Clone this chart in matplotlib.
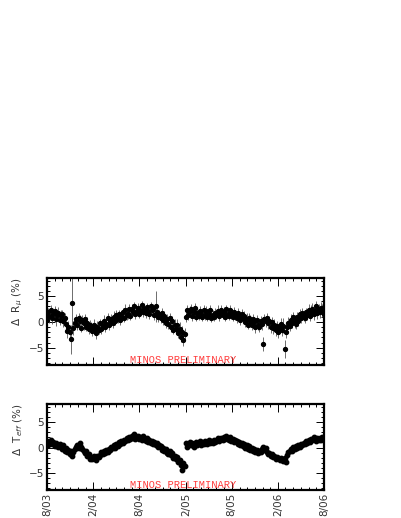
import matplotlib
matplotlib.use('Agg')
import matplotlib.pyplot as plt
import matplotlib.dates as mdates
import numpy as np
import pandas as pd

# one point every 5 days from 1 Aug 2003
start_date = '2003-08-01'
step = '5D'

rmu = [
    0.4, 1.9, 1.1, 2.3, 0.8, 1.5,
    2.1, 0.6, 1.3, 1.8, 0.4, 1.2,
    1.5, 0.1, 0.7, -0.4, -1.8, -0.9,
    -2.0, -3.4, 3.7, -1.2, -0.3, 0.5,
    -0.6, 0.7, 0.2, -1.1, 0.4, -0.3,
    0.5, -0.9, -0.2, -1.4, -0.6, -1.1,
    -1.8, -0.6, -1.3, -2.1, -0.9, -1.5,
    -0.2, -1.3, -0.7, 0.2, -1.0, -0.4,
    0.8, -0.5, 0.1, 0.6, -0.3, 1.0,
    0.2, 1.4, 0.7, 1.6, 0.4, 1.1,
    1.9, 0.8, 2.4, 1.3, 1.6, 2.6,
    1.2, 2.5, 1.9, 3.0, 1.5, 2.2,
    2.8, 1.6, 2.3, 3.3, 1.9, 2.6,
    1.7, 2.9, 2.2, 1.5, 3.0, 2.4,
    2.5, 1.4, 3.0, 1.9, 0.9, 1.6,
    0.7, 1.8, 0.3, 1.1, -0.2, 0.6,
    -0.4, 0.8, -0.9, 0.1, -1.5, -0.6,
    -1.4, -0.5, -2.2, -1.3, -2.9, -2.0,
    -3.6, -2.4, 0.9, 2.3, 1.4, 2.1,
    2.5, 1.2, 1.9, 2.7, 1.0, 1.7,
    1.1, 2.2, 1.6, 0.9, 2.4, 1.4,
    2.1, 1.0, 1.6, 2.3, 0.8, 1.3,
    0.9, 1.8, 1.3, 2.2, 1.1, 2.0,
    2.4, 1.3, 1.9, 1.0, 2.5, 1.6,
    1.2, 2.3, 1.6, 0.9, 2.0, 1.4,
    0.7, 1.7, 1.0, 0.3, 1.5, 0.8,
    1.1, 0.0, 0.6, -0.5, 0.8, 0.2,
    -0.6, 0.5, -0.1, -1.0, 0.3, -0.5,
    -0.9, 0.2, -0.4, -4.3, 0.6, 0.1,
    0.7, -0.3, 0.2, -0.9, 0.0, -1.2,
    -0.5, -1.5, -0.8, -1.9, -1.1, -0.4,
    -1.6, -0.7, -5.3, -1.9, -1.0, -0.2,
    -0.8, 0.4, -0.2, 0.9, 0.1, -0.4,
    1.0, 0.2, 1.5, 0.7, 1.8, 1.1,
    0.8, 1.9, 1.4, 2.4, 1.1, 2.0,
    2.6, 1.5, 2.2, 3.0, 1.7, 2.5,
    1.9, 2.8, 2.2, 1.6,
]

rmu_err = [
    1.1, 0.9, 1.3, 1.0, 1.2, 0.9,
    1.0, 1.4, 0.9, 1.1, 1.0, 1.2,
    0.9, 1.1, 1.0, 1.2, 1.3, 1.0,
    1.4, 2.8, 5.0, 1.3, 1.0, 1.1,
    0.9, 1.0, 1.1, 0.9, 1.0, 1.2,
    1.0, 0.9, 1.1, 1.0, 0.9, 1.1,
    1.0, 1.1, 0.9, 1.3, 1.0, 0.9,
    0.8, 1.0, 0.9, 1.1, 1.0, 0.9,
    0.9, 1.0, 0.8, 1.0, 0.9, 1.1,
    0.8, 0.9, 1.0, 0.8, 0.9, 1.0,
    0.9, 0.8, 1.0, 0.9, 1.1, 0.8,
    0.9, 1.0, 0.8, 0.9, 1.0, 0.9,
    0.8, 0.9, 1.0, 0.8, 0.9, 1.1,
    0.9, 0.8, 1.0, 0.9, 0.8, 1.0,
    0.9, 1.0, 3.0, 0.9, 1.0, 0.8,
    0.9, 1.0, 0.9, 1.1, 0.9, 1.0,
    1.0, 0.9, 1.1, 1.0, 0.9, 1.2,
    1.0, 1.1, 0.9, 1.2, 1.0, 1.3,
    1.1, 1.2, 1.0, 0.9, 1.1, 1.0,
    0.9, 1.0, 0.8, 1.0, 0.9, 1.1,
    0.8, 0.9, 1.0, 0.8, 0.9, 1.0,
    0.9, 0.8, 1.0, 0.9, 0.8, 1.0,
    0.8, 0.9, 0.8, 1.0, 0.9, 0.8,
    0.9, 0.8, 1.0, 0.9, 0.8, 0.9,
    0.8, 0.9, 1.0, 0.8, 0.9, 1.0,
    0.9, 1.0, 0.9, 0.8, 1.0, 0.9,
    1.0, 0.9, 1.1, 0.9, 1.0, 1.1,
    1.0, 1.1, 0.9, 1.2, 1.0, 1.1,
    1.1, 1.0, 1.2, 1.3, 1.0, 1.1,
    1.0, 1.1, 0.9, 1.2, 1.0, 1.1,
    1.1, 1.2, 1.0, 1.3, 1.1, 1.2,
    1.1, 1.4, 1.8, 1.2, 1.0, 1.1,
    1.0, 1.1, 0.9, 1.0, 1.2, 0.9,
    1.0, 0.9, 1.1, 1.0, 0.9, 1.0,
    1.0, 0.9, 1.1, 1.0, 0.9, 1.2,
    1.0, 1.1, 0.9, 1.0, 1.1, 1.0,
    1.1, 1.0, 1.2, 1.0,
]

teff = [
    1.2, 0.5, 0.9, 1.4, 0.6, 1.0,
    0.3, 0.9, 0.5, 0.1, 0.7, 0.2,
    -0.2, 0.4, -0.6, -0.1, -0.9, -0.4,
    -1.3, -0.7, -1.6, -0.9, -0.3, 0.1,
    0.5, -0.1, 0.8, 0.2, -0.3, -0.7,
    -1.1, -0.6, -1.7, -1.3, -2.2, -1.8,
    -2.3, -1.7, -2.1, -2.5, -1.6, -1.9,
    -1.5, -0.9, -1.2, -0.6, -1.1, -0.4,
    -0.8, -0.2, -0.5, 0.2, -0.1, 0.4,
    0.0, 0.6, 0.3, 1.0, 0.7, 1.3,
    0.9, 1.5, 1.2, 1.8, 1.4, 2.0,
    1.6, 2.2, 1.9, 2.6, 1.7, 2.1,
    2.2, 1.6, 2.0, 1.5, 2.3, 1.7,
    1.3, 1.8, 1.1, 1.5, 0.8, 1.2,
    0.7, 1.1, 0.4, 0.8, 0.1, 0.5,
    0.3, -0.4, 0.0, -0.7, -0.2, -1.0,
    -1.2, -0.7, -1.5, -1.1, -2.0, -1.6,
    -2.3, -1.8, -2.9, -2.5, -3.4, -4.3,
    -3.1, -3.7, 0.8, 0.2, 0.6, 1.0,
    0.4, 0.9, 0.2, 0.7, 1.1, 0.5,
    0.8, 1.2, 0.5, 1.0, 0.7, 1.3,
    1.0, 0.6, 1.4, 0.9, 1.2, 0.8,
    1.5, 1.0, 1.3, 1.8, 1.2, 1.6,
    1.9, 1.4, 2.1, 1.7, 2.3, 1.6,
    1.5, 2.0, 1.3, 1.7, 1.0, 1.4,
    1.2, 0.7, 1.0, 0.4, 0.8, 0.3,
    0.6, 0.0, 0.4, -0.2, 0.3, -0.5,
    -0.1, -0.7, -0.3, -0.9, -0.4, -1.1,
    -0.6, -0.9, -0.2, 0.1, -0.4, -0.1,
    -0.8, -1.3, -1.0, -1.6, -1.2, -1.9,
    -1.6, -2.2, -1.8, -2.0, -2.5, -2.1,
    -2.3, -2.7, -2.0, -2.9, -1.5, -0.9,
    -0.7, -0.2, -0.6, 0.1, -0.3, 0.3,
    0.0, 0.5, 0.2, 0.7, 0.4, 0.9,
    0.7, 1.2, 0.9, 1.5, 1.1, 1.7,
    1.5, 2.0, 1.6, 1.3, 1.9, 1.5,
    1.8, 1.4, 2.0, 1.7,
]

xtick_dates = ['2003-08-01', '2004-02-01', '2004-08-01',
               '2005-02-01', '2005-08-01', '2006-02-01', '2006-08-01']
xtick_labels = ['8/03', '2/04', '8/04', '2/05', '8/05', '2/06', '8/06']

dates = pd.date_range(start_date, periods=len(rmu), freq=step)
tick_pos = pd.to_datetime(xtick_dates)

fig = plt.figure(figsize=(4.01, 5.18), dpi=100)
ax1 = fig.add_axes([0.117, 0.296, 0.691, 0.167])
ax2 = fig.add_axes([0.117, 0.054, 0.691, 0.166])


def style(ax, show_labels):
    ax.set_xlim(tick_pos[0], tick_pos[-1])
    ax.set_ylim(-8.3, 8.5)
    ax.set_yticks([-5, 0, 5])
    ax.set_yticks(np.arange(-8, 9, 1), minor=True)
    ax.set_xticks(tick_pos)
    ax.xaxis.set_minor_locator(mdates.MonthLocator())
    ax.tick_params(which='both', direction='in', top=True, right=True,
                   width=0.7, colors='black', labelcolor='#333333',
                   labelsize=7.5, pad=2)
    ax.tick_params(which='major', length=6)
    ax.tick_params(which='minor', length=2.5)
    if show_labels:
        ax.set_xticklabels(xtick_labels, rotation=90)
    else:
        ax.set_xticklabels([])
    for s in ax.spines.values():
        s.set_linewidth(1.6)
    ax.text(0.49, 0.0, 'MINOS PRELIMINARY', transform=ax.transAxes,
            ha='center', va='bottom', color='#ff3b3b', fontsize=7.5,
            family='Liberation Mono')


ax1.errorbar(dates, rmu, yerr=rmu_err, fmt='o', color='black', ms=2.8,
             ecolor='#555555', elinewidth=0.6, capsize=0)
style(ax1, False)
ax1.set_ylabel(r'$\Delta$  R$_{\mu}$ (%)', fontsize=7.5, loc='top',
               color='#333333', labelpad=3)

ax2.plot(dates, teff, 'o', color='black', ms=3.2)
style(ax2, True)
ax2.set_ylabel(r'$\Delta$  T$_{eff}$ (%)', fontsize=7.5, loc='top',
               color='#333333', labelpad=3)

fig.savefig('out.png', dpi=100)
